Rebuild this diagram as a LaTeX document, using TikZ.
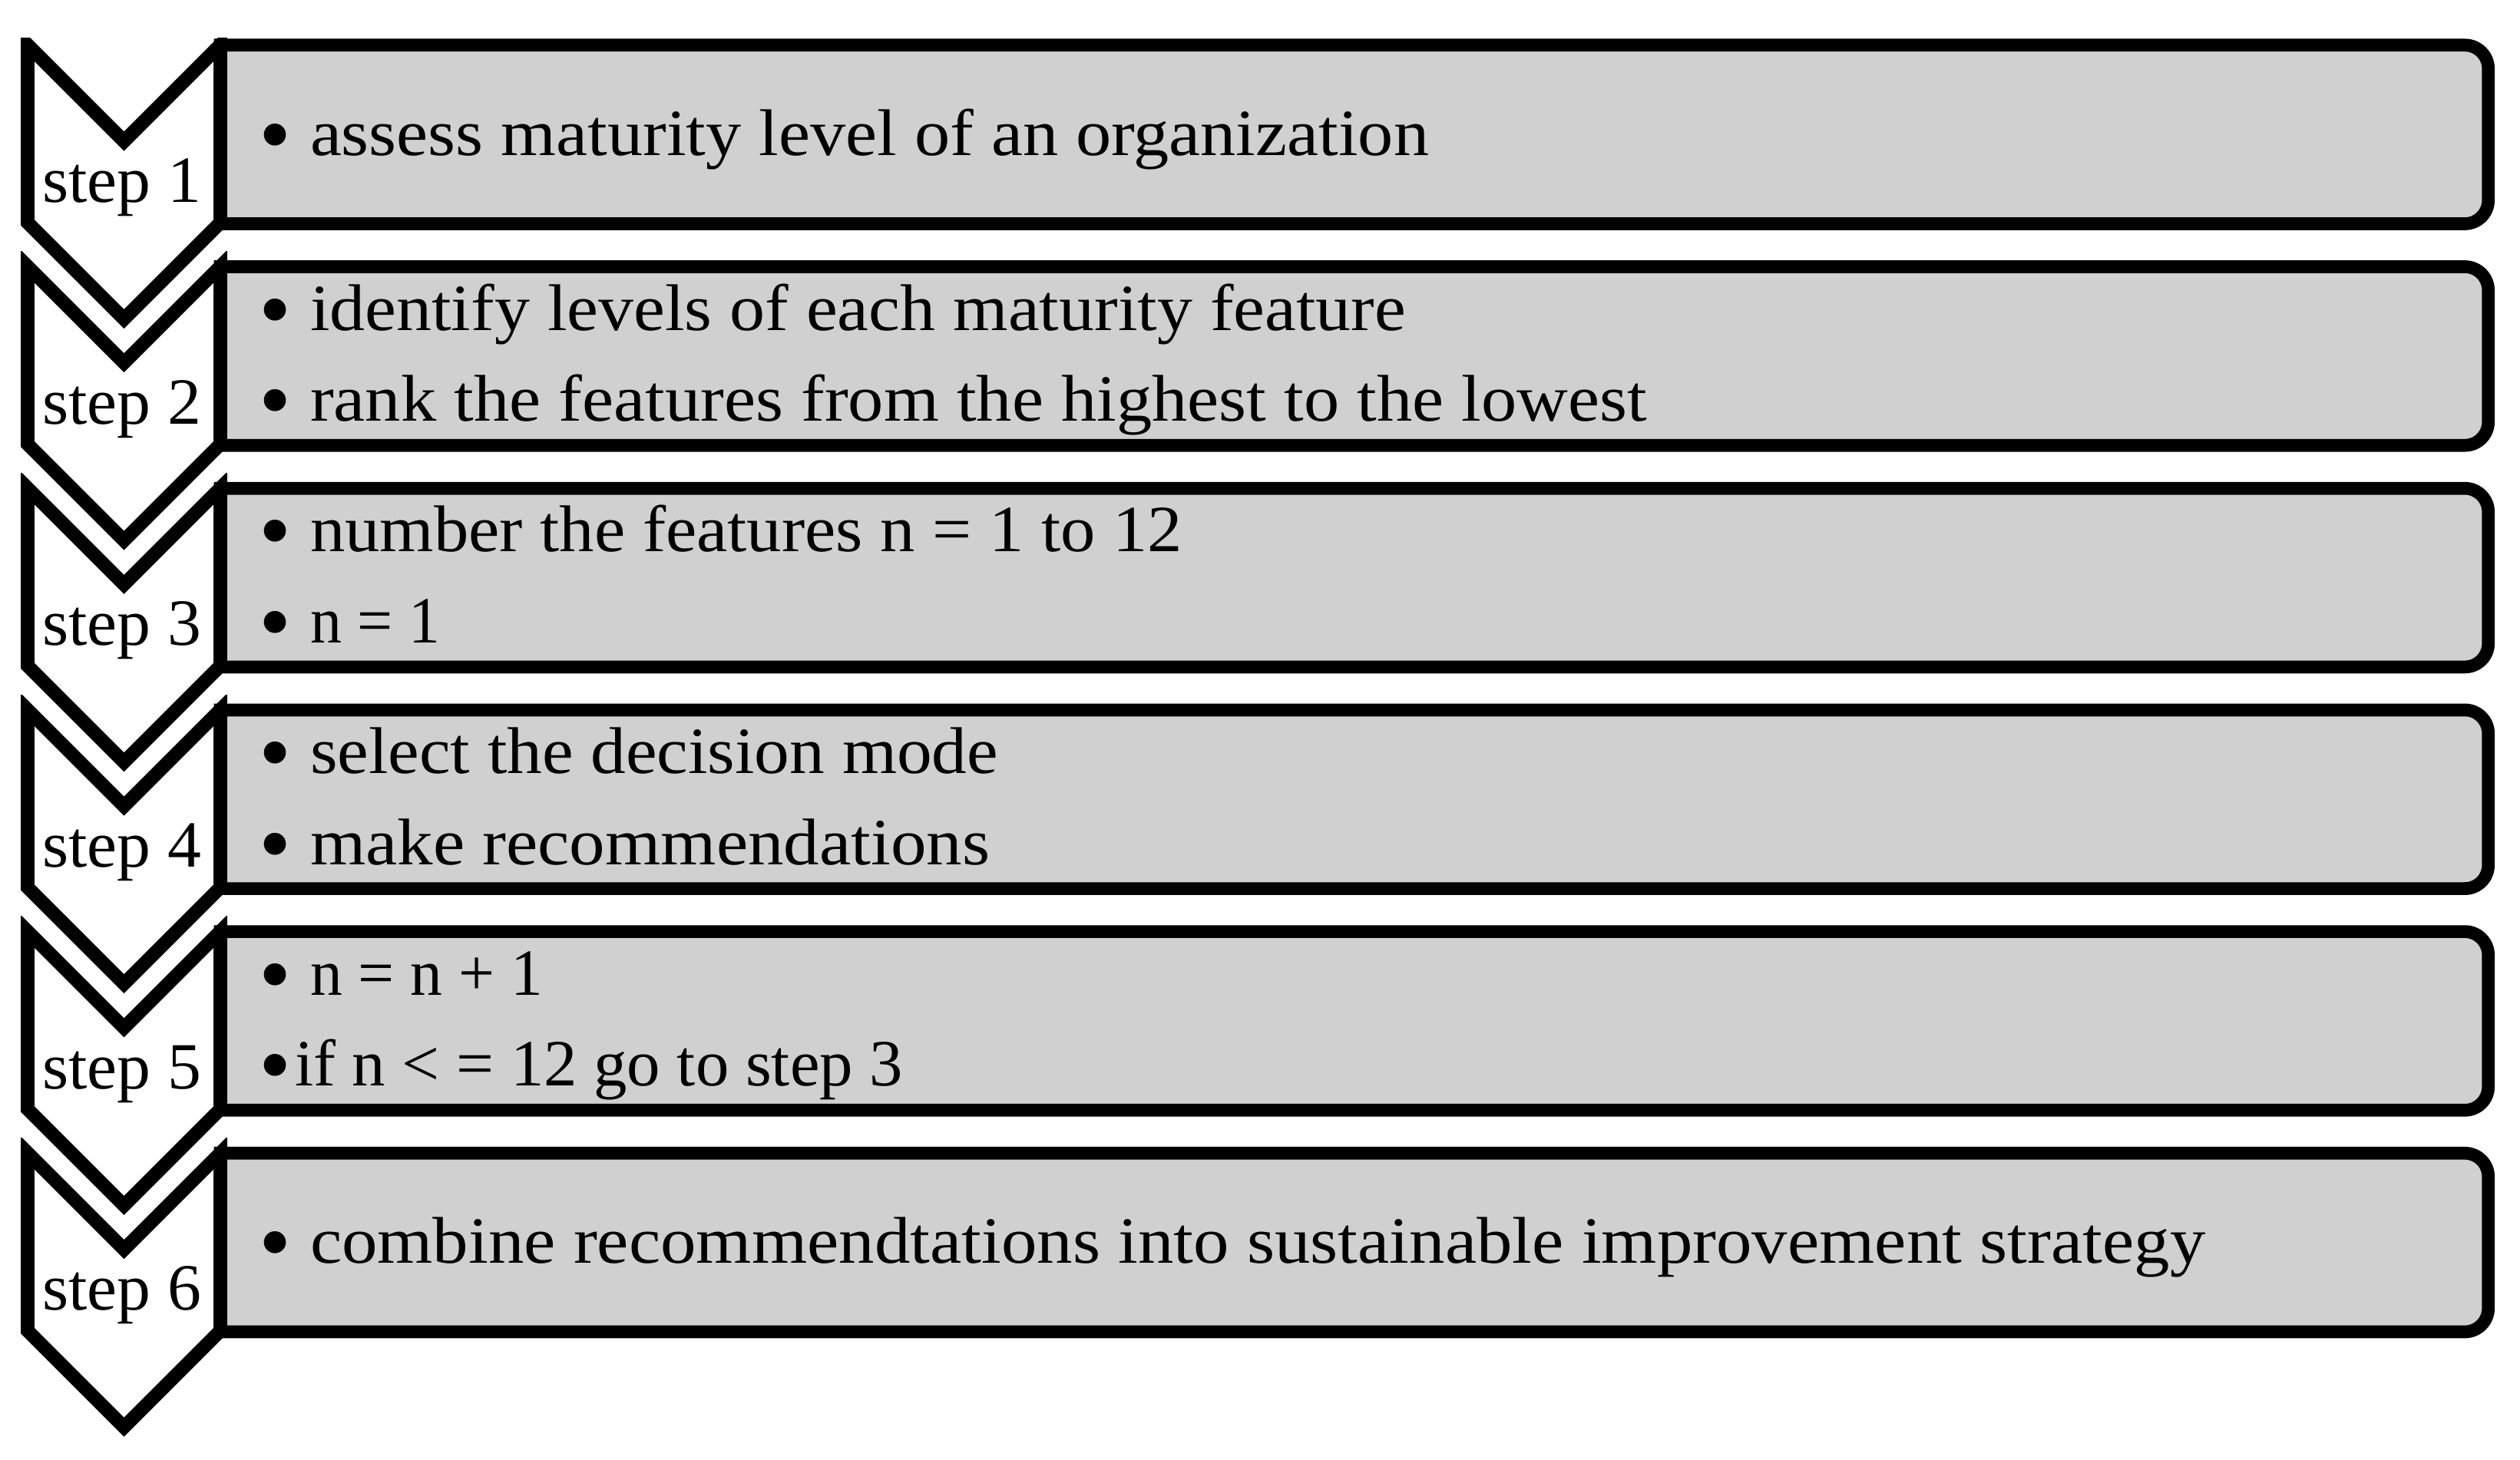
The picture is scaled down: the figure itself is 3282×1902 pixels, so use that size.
\documentclass[tikz,border=0pt]{standalone}
\usepackage{fontspec}
\setmainfont{Liberation Serif}
\usepackage{graphicx}
\definecolor{boxgray}{RGB}{208,208,208}
\newcommand\fitw[2]{\resizebox{#1}{\height}{#2}}
\tikzset{
  chev/.style={draw=black, fill=white, line width=17.7pt, line join=miter},
  stepbox/.style={draw=black, fill=boxgray, line width=16.7pt, line join=miter},
  txt/.style={anchor=base west, inner sep=0pt, outer sep=0pt, font=\fontsize{86}{100}\selectfont},
  steplbl/.style={anchor=base, inner sep=0pt, outer sep=0pt, font=\fontsize{86}{100}\selectfont},
  bul/.style={anchor=base, inner sep=0pt, outer sep=0pt, font=\fontsize{120}{120}\selectfont},
}
\begin{document}
\begin{tikzpicture}[x=1pt,y=-1pt]
\useasboundingbox (0,0) rectangle (3282,1902);
\foreach \k/\cut in {1/49.3,2/327.7,3/616.4,4/905.1,5/1193.8,6/1482.5}{
  \pgfmathsetmacro\V{184+288.7*(\k-1)}
  % grey box (right corners rounded)
  \path[stepbox] (287,\V-125.2) -- (3210.1,\V-125.2)
     .. controls (3227.0,\V-125.2) and (3240.7,\V-111.5) .. (3240.7,\V-94.6)
     -- (3240.7,\V+76.9)
     .. controls (3240.7,\V+93.8) and (3227.0,\V+107.5) .. (3210.1,\V+107.5)
     -- (287,\V+107.5) -- cycle;
  % chevron
  \begin{scope}
    \clip (0,\cut) rectangle (600,\V+320);
    \path[chev] (36,\V-125.5) -- (161.5,\V) -- (287,\V-125.5) -- (287,\V+106)
       -- (161.5,\V+231.5) -- (36,\V+106) -- cycle;
  \end{scope}
}
\node[steplbl] (s1) at (159,263.3)  {\fitw{207pt}{step 1}};
\node[steplbl] (s2) at (159,552.0)  {\fitw{207pt}{step 2}};
\node[steplbl] (s3) at (159,840.7)  {\fitw{207pt}{step 3}};
\node[steplbl] (s4) at (159,1129.4) {\fitw{207pt}{step 4}};
\node[steplbl] (s5) at (159,1418.1) {\fitw{207pt}{step 5}};
\node[steplbl] (s6) at (159,1706.8) {\fitw{207pt}{step 6}};

\node[bul] (b1)  at (358.5,215.3)  {•};
\node[bul] (b2a) at (358.5,443.2)  {•};
\node[bul] (b2b) at (358.5,561.7)  {•};
\node[bul] (b3a) at (358.5,731.9)  {•};
\node[bul] (b3b) at (358.5,850.4)  {•};
\node[bul] (b4a) at (358.5,1020.6) {•};
\node[bul] (b4b) at (358.5,1139.1) {•};
\node[bul] (b5a) at (358.5,1309.3) {•};
\node[bul] (b5b) at (358.5,1427.8) {•};
\node[bul] (b6)  at (358.5,1658.8) {•};

\node[txt] (t1)  at (404,202.3)  {\fitw{1457pt}{assess maturity level of an organization}};
\node[txt] (t2a) at (404,430.2)  {\fitw{1427pt}{identify levels of each maturity feature}};
\node[txt] (t2b) at (404,548.7)  {\fitw{1741pt}{rank the features from the highest to the lowest}};
\node[txt] (t3a) at (404,718.9)  {\fitw{1136pt}{number the features n = 1 to 12}};
\node[txt] (t3b) at (404,837.4)  {\fitw{169pt}{n = 1}};
\node[txt] (t4a) at (404,1007.6) {\fitw{896pt}{select the decision mode}};
\node[txt] (t4b) at (404,1126.1) {\fitw{885pt}{make recommendations}};
\node[txt] (t5a) at (404,1296.3) {\fitw{303pt}{n = n + 1}};
\node[txt] (t5b) at (384,1414.8) {\fitw{792pt}{if n < = 12 go to step 3}};
\node[txt] (t6)  at (404,1645.8) {\fitw{2468pt}{combine recommendtations into sustainable improvement strategy}};
\end{tikzpicture}
\end{document}
